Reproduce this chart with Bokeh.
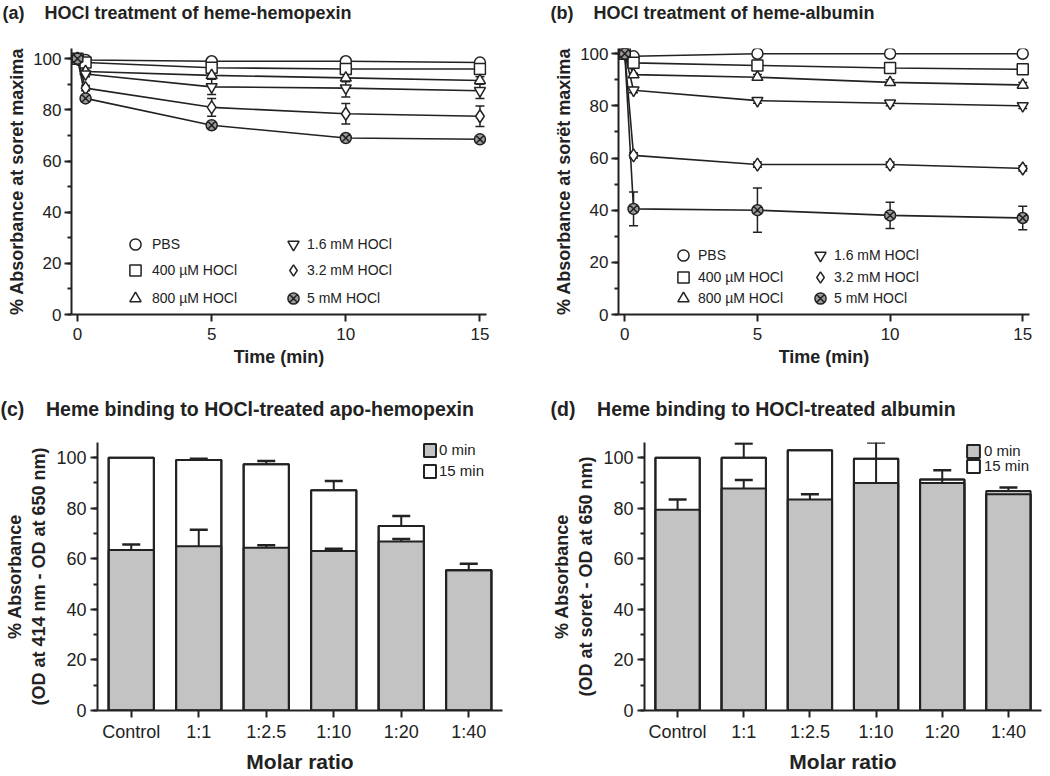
from bokeh.plotting import figure
from bokeh.models import (Range1d, FactorRange, SingleIntervalTicker, ColumnDataSource,
                          Whisker, TeeHead, Legend, LegendItem, Title)
from bokeh.layouts import column, row
from bokeh.embed import file_html
from bokeh.resources import INLINE

FONT = "Liberation Sans"
INK = "#222222"
GRAY = "#c3c3c3"
NB = "\u00a0"

# ---------------- data ----------------
series_labels = ["PBS", "400 µM HOCl", "800 µM HOCl", "1.6 mM HOCl", "3.2 mM HOCl", "5 mM HOCl"]

# (a) heme-hemopexin
time_a = [0, 0.3, 5, 10, 15]
pbs_a = [100, 99.5, 99, 99, 98.5]
hocl400_a = [100, 98.5, 96.5, 96, 96]
hocl800_a = [100, 95, 93.5, 92.5, 91.5]
hocl1600_a = [100, 94, 89, 88.5, 87.5]
hocl3200_a = [100, 88.5, 81, 78.5, 77.5]
hocl5000_a = [100, 84.5, 74, 69, 68.5]
err_pbs_a = [0, 0.5, 0.5, 0.5, 0.5]
err_400_a = [0, 0.5, 1, 1, 1]
err_800_a = [0, 0.5, 1.5, 1.5, 1.5]
err_1600_a = [0, 1, 3, 3.5, 3]
err_3200_a = [0, 1, 3.5, 4, 4]
err_5000_a = [0, 1, 1, 1, 1]

# (b) heme-albumin
time_b = [0, 0.33, 5, 10, 15]
pbs_b = [100, 99, 100, 100, 100]
hocl400_b = [100, 96.5, 95.5, 94.5, 94]
hocl800_b = [100, 92, 91, 89, 88]
hocl1600_b = [100, 86, 82, 81, 80]
hocl3200_b = [100, 61, 57.5, 57.5, 56]
hocl5000_b = [100, 40.5, 40, 38, 37]
err_pbs_b = [0, 0.5, 0.5, 0.5, 0.5]
err_400_b = [0, 0.5, 1, 1, 1]
err_800_b = [0, 0.5, 1, 1, 1]
err_1600_b = [0, 1, 1, 1, 1]
err_3200_b = [0, 1, 1, 1, 1]
err_5000_b = [0, 6.5, 8.5, 5, 4.5]

# (c) apo-hemopexin, (d) albumin
ratios = ["Control", "1:1", "1:2.5", "1:10", "1:20", "1:40"]
hpx_0min = [63.5, 65, 64.4, 63.1, 66.8, 55.5]
hpx_0min_err = [2.2, 6.5, 1, 0.9, 1, 2.5]
hpx_15min = [100, 99.1, 97.4, 87.1, 73, 55.5]
hpx_15min_err = [0, 0.5, 1.3, 3.7, 3.9, 0]
alb_0min = [79.4, 87.8, 83.5, 90, 90, 86.8]
alb_0min_err = [4.1, 3.4, 2, 16, 5, 1.4]
alb_15min = [100, 100, 102.9, 99.6, 91.4, 85.5]
alb_15min_err = [0, 5.6, 0, 0, 0, 0]

MARKERS = ["circle", "square", "triangle", "inverted_triangle", "diamond", "circle_x"]
SIZES = [11, 11, 11, 11, 13, 11]
FILLS = ["white", "white", "white", "white", "white", "#9a9a9a"]


def style_axes(p, tick_size="17px", label_size="18px"):
    for ax in p.axis:
        ax.axis_line_width = 2
        ax.axis_line_color = INK
        ax.major_tick_line_width = 2
        ax.major_tick_line_color = INK
        ax.major_tick_in = 0
        ax.major_tick_out = 7
        ax.minor_tick_line_width = 2
        ax.minor_tick_line_color = INK
        ax.minor_tick_in = 0
        ax.minor_tick_out = 4
        ax.major_label_text_font = FONT
        ax.major_label_text_font_size = tick_size
        ax.major_label_text_color = INK
        ax.axis_label_text_font = FONT
        ax.axis_label_text_font_size = label_size
        ax.axis_label_text_font_style = "bold"
        ax.axis_label_text_color = INK


def heading(p, tag, text, offset, gap, size):
    # spacer keeps the heading clear of the plot frame
    p.add_layout(Title(text=NB, text_font_size="1px", standoff=gap, text_color="white"), "above")
    p.add_layout(Title(text=tag + NB * 4 + text, align="left", offset=offset,
                       vertical_align="top", standoff=4, text_font=FONT,
                       text_font_size=size, text_font_style="bold", text_color=INK), "above")


def single_legend(p, label, renderer, loc, gw, gh, standoff, font_size, label_h):
    p.add_layout(Legend(items=[LegendItem(label=label, renderers=[renderer])], location=loc,
                        background_fill_alpha=0, border_line_color=None, padding=0, margin=0,
                        spacing=0, glyph_width=gw, glyph_height=gh, label_standoff=standoff,
                        label_text_font=FONT, label_text_font_size=font_size,
                        label_text_color=INK, label_height=label_h))


def line_panel(times, values, errors, width, xr, yr, borders, ylabel, leg_locs, leg_standoffs):
    bl, br, bt, bb = borders
    p = figure(width=width, height=395, x_range=Range1d(*xr), y_range=Range1d(*yr),
               output_backend="svg", toolbar_location=None, title=None,
               min_border_left=bl, min_border_right=br, min_border_top=bt, min_border_bottom=bb)
    p.outline_line_color = None
    p.xgrid.visible = False
    p.ygrid.visible = False
    p.xaxis.ticker = SingleIntervalTicker(interval=5, num_minor_ticks=0)
    p.yaxis.ticker = SingleIntervalTicker(interval=20, num_minor_ticks=2)
    p.xaxis.axis_label = "Time (min)"
    p.yaxis.axis_label = ylabel
    style_axes(p)
    p.xaxis.major_label_standoff = 6
    p.xaxis.axis_label_standoff = 4
    p.yaxis.major_label_standoff = 3
    p.yaxis.axis_label_standoff = 3
    scat = []
    for vals, errs in zip(values, errors):
        xs = [t for t, e in zip(times, errs) if e > 0]
        lo = [v - e for v, e in zip(vals, errs) if e > 0]
        hi = [v + e for v, e in zip(vals, errs) if e > 0]
        src = ColumnDataSource(dict(x=xs, lo=lo, hi=hi))
        p.add_layout(Whisker(source=src, base="x", lower="lo", upper="hi", dimension="height",
                             line_color=INK, line_width=1.5,
                             upper_head=TeeHead(size=9, line_color=INK, line_width=1.5),
                             lower_head=TeeHead(size=9, line_color=INK, line_width=1.5)))
        p.line(times, vals, line_color=INK, line_width=1.6)
    for vals, mk, sz, fc in zip(values, MARKERS, SIZES, FILLS):
        scat.append(p.scatter(times, vals, marker=mk, size=sz, fill_color=fc,
                              line_color=INK, line_width=1.5))
    for i, loc in enumerate(leg_locs):
        single_legend(p, series_labels[i], scat[i], loc, 28, 28, leg_standoffs[i // 3], "14px", 16)
    return p


def bar_panel(zero, zero_err, fifteen, fifteen_err, width, borders, ylabel, leg_locs,
              glyph, standoff):
    bl, br, bt, bb = borders
    p = figure(width=width, height=380, x_range=FactorRange(*ratios), y_range=Range1d(0, 106),
               output_backend="svg", toolbar_location=None, title=None,
               min_border_left=bl, min_border_right=br, min_border_top=bt, min_border_bottom=bb)
    p.outline_line_color = None
    p.xgrid.visible = False
    p.ygrid.visible = False
    p.yaxis.ticker = SingleIntervalTicker(interval=20, num_minor_ticks=2)
    p.xaxis.axis_label = "Molar ratio"
    p.yaxis.axis_label = ylabel
    style_axes(p, tick_size="18px", label_size="18px")
    p.xaxis.axis_label_text_font_size = "21px"
    p.xaxis.major_label_standoff = 4
    p.xaxis.axis_label_standoff = 5
    p.yaxis.major_label_standoff = 4
    p.yaxis.axis_label_standoff = 4
    src = ColumnDataSource(dict(cat=ratios, t0=zero, t15=fifteen))
    r15 = p.vbar(x="cat", top="t15", width=0.67, source=src, fill_color="white",
                 line_color=INK, line_width=2)
    r0 = p.vbar(x="cat", top="t0", width=0.67, source=src, fill_color=GRAY,
                line_color=INK, line_width=2)
    p.vbar(x="cat", top="t15", width=0.67, source=src, fill_color=None,
           line_color=INK, line_width=2)
    for vals, errs in ((zero, zero_err), (fifteen, fifteen_err)):
        cats = [c for c, e in zip(ratios, errs) if e > 0]
        lo = [v for v, e in zip(vals, errs) if e > 0]
        hi = [v + e for v, e in zip(vals, errs) if e > 0]
        wsrc = ColumnDataSource(dict(cat=cats, lo=lo, hi=hi))
        p.add_layout(Whisker(source=wsrc, base="cat", lower="lo", upper="hi", dimension="height",
                             level="annotation", line_color=INK, line_width=2,
                             upper_head=TeeHead(size=18, line_color=INK, line_width=2.5),
                             lower_head=None))
    single_legend(p, "0 min", r0, leg_locs[0], glyph, 16, standoff, "15px", 16)
    single_legend(p, "15 min", r15, leg_locs[1], glyph, 16, standoff, "15px", 16)
    return p


vals_a = [pbs_a, hocl400_a, hocl800_a, hocl1600_a, hocl3200_a, hocl5000_a]
errs_a = [err_pbs_a, err_400_a, err_800_a, err_1600_a, err_3200_a, err_5000_a]
pa = line_panel(time_a, vals_a, errs_a, 525, (-0.224, 15.244), (0, 104), (71, 39, 48, 81),
                "% Absorbance at soret maxima",
                [(50, 56), (50, 30), (50, 2), (208, 56), (208, 30), (208, 2)], [3, 0])
heading(pa, "(a)", "HOCl treatment of heme-hemopexin", -69, 19, "18px")

vals_b = [pbs_b, hocl400_b, hocl800_b, hocl1600_b, hocl3200_b, hocl5000_b]
errs_b = [err_pbs_b, err_400_b, err_800_b, err_1600_b, err_3200_b, err_5000_b]
pb = line_panel(time_b, vals_b, errs_b, 524, (-0.237, 15.255), (0, 102), (93, 20, 48, 81),
                "% Absorbance at sorët maxima",
                [(51, 45), (51, 23), (51, 2), (188, 45), (188, 23), (188, 2)], [1, 0])
heading(pb, "(b)", "HOCl treatment of heme-albumin", -68, 19, "18px")

pc = bar_panel(hpx_0min, hpx_0min_err, hpx_15min, hpx_15min_err, 525, (97, 23, 47, 65),
               "% Absorbance\n(OD at 414 nm - OD at 650 nm)", [(325, 252), (325, 231)], 15, 2)
heading(pc, "(c)", "Heme binding to HOCl-treated apo-hemopexin", -97, 16, "19.5px")

pd = bar_panel(alb_0min, alb_0min_err, alb_15min, alb_15min_err, 524, (119, 8, 47, 65),
               "% Absorbance\n(OD at soret - OD at 650 nm)", [(321, 251), (321, 236)], 16, 3)
heading(pd, "(d)", "Heme binding to HOCl-treated albumin", -94, 16, "19.5px")

layout = column(row(pa, pb), row(pc, pd))
open("out.html", "w").write(file_html(layout, INLINE))
